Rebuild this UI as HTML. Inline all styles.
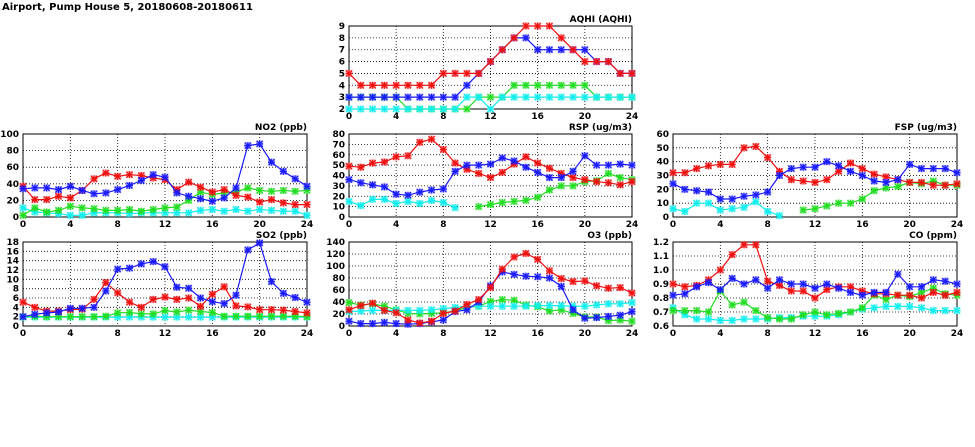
<!DOCTYPE html>
<html><head><meta charset="utf-8">
<style>
body{margin:0;background:#fff;width:975px;height:447px;overflow:hidden}
svg{display:block}
text{font-family:"DejaVu Sans","Liberation Sans",sans-serif;font-weight:bold;font-size:9px;fill:#000}
</style></head>
<body>
<svg id="chart" width="975" height="447" viewBox="0 0 975 447" xmlns="http://www.w3.org/2000/svg">
<text x="2" y="10" style="font-size:10px">Airport, Pump House 5, 20180608-20180611</text>
</svg>
<script>
const hours=[0,1,2,3,4,5,6,7,8,9,10,11,12,13,14,15,16,17,18,19,20,21,22,23,24];
const xTicks=[0,4,8,12,16,20,24];
const N=null;
const aqhiRed=[5,4,4,4,4,4,4,4,5,5,5,5,6,7,8,9,9,9,8,7,6,6,6,5,5];
const aqhiBlue=[3,3,3,3,3,3,3,3,3,3,4,5,6,7,8,8,7,7,7,7,7,6,6,5,5];
const aqhiGreen=[3,3,3,3,3,2,2,2,2,2,2,3,3,3,4,4,4,4,4,4,4,3,3,3,3];
const aqhiCyan=[2,2,2,2,2,2,2,2,2,2,3,3,2,3,3,3,3,3,3,3,3,3,3,3,3];
const no2Blue=[34,35,35,33,37,32,28,29,33,38,44,51,48,29,25,22,19,23,35,86,88,66,55,46,37];
const no2Red=[37,21,21,25,23,32,46,53,49,51,50,47,45,33,42,36,30,33,26,24,18,21,17,15,15];
const no2Green=[2,11,6,8,13,11,10,8,8,9,7,9,11,12,20,30,27,29,30,35,32,31,32,31,32];
const no2Cyan=[11,6,5,4,2,2,5,5,5,4,5,5,5,5,5,8,9,7,9,7,9,8,7,7,2];
const so2Blue=[2,2.5,2.8,3,3.8,3.8,4,7.5,12.2,12.4,13.3,13.8,12.7,8.3,8.1,6,5.2,4.8,6.6,16.3,17.8,9.5,7,6.1,5.1];
const so2Red=[5.1,4,3.2,3.2,3.5,3.6,5.7,9.3,7.1,5.1,4,5.7,6.2,5.7,6,4.2,6.8,8.4,4.3,4.1,3.5,3.5,3.4,3.1,2.8];
const so2Green=[2,2.1,2,2,2,2,2,2.1,2.8,2.9,2.6,2.6,3.3,3,3.4,3.1,2.9,2.1,2.1,2.1,2.1,2.1,2.1,2.1,2];
const so2Cyan=[1.9,1.9,1.9,1.9,1.9,1.9,1.9,1.9,1.9,1.9,1.9,1.9,1.9,1.9,1.9,1.9,1.9,1.9,1.9,1.9,1.9,1.9,1.9,1.9,1.9];
const rspRed=[49,48,52,53,58,59,72,75,65,52,46,42,38,43,51,58,52,47,42,38,36,34,33,31,34];
const rspBlue=[36,33,31,29,22,21,24,26,27,44,50,50,51,57,54,48,43,38,38,44,59,50,50,51,50];
const rspGreen=[N,N,N,N,N,N,N,N,N,N,N,10,12,14,15,16,19,26,30,30,34,35,42,38,36];
const rspCyan=[15,11,17,17,13,15,13,16,14,9,N,N,N,N,N,N,N,N,N,N,N,N,N,N,N];
const o3Red=[27,34,38,26,22,10,5,8,21,25,36,44,64,95,115,121,111,92,79,74,75,67,63,64,55];
const o3Blue=[8,4,4,6,4,3,4,7,10,24,27,40,67,90,86,83,82,80,66,27,13,14,16,18,24];
const o3Green=[39,35,37,33,27,21,20,21,22,25,31,33,41,44,43,35,32,25,27,21,15,15,9,10,8];
const o3Cyan=[24,25,26,26,26,26,26,27,29,31,33,33,33,33,33,33,34,34,34,33,33,35,37,37,39];
const fspRed=[32,32,35,37,38,38,50,51,43,33,27,26,25,27,33,39,35,31,29,27,25,25,23,23,24];
const fspBlue=[24,20,19,18,13,13,15,16,18,30,35,36,36,40,37,33,30,26,25,27,38,35,35,35,32];
const fspGreen=[N,N,N,N,N,N,N,N,N,N,N,5,6,8,10,10,13,19,21,22,25,24,26,23,23];
const fspCyan=[6,4,10,10,5,6,7,11,4,1,N,N,N,N,N,N,N,N,N,N,N,N,N,N,N];
const coRed=[.90,.88,.89,.93,1.0,1.11,1.18,1.18,.92,.89,.85,.85,.80,.86,.88,.88,.85,.83,.83,.82,.82,.80,.84,.82,.84];
const coBlue=[.82,.83,.88,.91,.86,.94,.90,.93,.87,.93,.90,.90,.87,.90,.87,.84,.82,.84,.84,.97,.88,.88,.93,.92,.90];
const coGreen=[.71,.71,.71,.70,.85,.75,.77,.71,.66,.65,.65,.68,.70,.68,.69,.70,.73,.82,.79,.82,.81,.84,.87,.83,.82];
const coCyan=[.73,.68,.65,.65,.64,.64,.65,.65,.65,.66,.66,.67,.67,.67,.68,.70,.72,.73,.74,.74,.74,.73,.71,.71,.71];

const COL={red:"#f01010",blue:"#1a1aff",green:"#22dd22",cyan:"#11eeee"};
const panels=[
 {id:"aqhi",title:"AQHI (AQHI)",x0:349,x1:632,yt:26,yb:109,min:2,max:9,step:1,dec:0,s:[["green",aqhiGreen],["cyan",aqhiCyan],["blue",aqhiBlue],["red",aqhiRed]]},
 {id:"no2",title:"NO2 (ppb)",x0:23,x1:307,yt:134,yb:217,min:0,max:100,step:20,dec:0,s:[["cyan",no2Cyan],["green",no2Green],["red",no2Red],["blue",no2Blue]]},
 {id:"so2",title:"SO2 (ppb)",x0:23,x1:307,yt:242,yb:326,min:0,max:18,step:2,dec:0,s:[["cyan",so2Cyan],["green",so2Green],["red",so2Red],["blue",so2Blue]]},
 {id:"rsp",title:"RSP (ug/m3)",x0:349,x1:632,yt:134,yb:217,min:0,max:80,step:10,dec:0,s:[["cyan",rspCyan],["green",rspGreen],["red",rspRed],["blue",rspBlue]]},
 {id:"o3",title:"O3 (ppb)",x0:349,x1:632,yt:242,yb:326,min:0,max:140,step:20,dec:0,s:[["green",o3Green],["cyan",o3Cyan],["blue",o3Blue],["red",o3Red]]},
 {id:"fsp",title:"FSP (ug/m3)",x0:673,x1:957,yt:134,yb:217,min:0,max:60,step:10,dec:0,s:[["cyan",fspCyan],["green",fspGreen],["red",fspRed],["blue",fspBlue]]},
 {id:"co",title:"CO (ppm)",x0:673,x1:957,yt:242,yb:326,min:0.6,max:1.2,step:0.1,dec:1,s:[["cyan",coCyan],["green",coGreen],["red",coRed],["blue",coBlue]]}
];
const svg=document.getElementById('chart');
const NS="http://www.w3.org/2000/svg";
function mk(tag,attrs,parent){const e=document.createElementNS(NS,tag);for(const k in attrs)e.setAttribute(k,attrs[k]);(parent||svg).appendChild(e);return e;}
panels.forEach(p=>{
 const g=mk('g',{});
 
 
 const xs=h=>p.x0+(h-24*0)/24*(p.x1-p.x0);
 const ys=v=>p.yb-(v-p.min)/(p.max-p.min)*(p.yb-p.yt);
 const nT=Math.round((p.max-p.min)/p.step);
 for(let i=0;i<=nT;i++){
  const v=p.min+i*p.step,y=ys(v);
  if(i>0&&i<nT){const l=mk('line',{x1:p.x0,x2:p.x1,y1:y,y2:y,stroke:"#000","stroke-width":0.8,"stroke-dasharray":"1,2"},g);}
  const t=mk('text',{x:p.x0-4,y:y+3,"text-anchor":"end"},g);t.textContent=v.toFixed(p.dec);
  
 }
 xTicks.forEach(h=>{
  const x=xs(h);
  if(h>0&&h<24){const l=mk('line',{x1:x,x2:x,y1:p.yt,y2:p.yb,stroke:"#000","stroke-width":0.8,"stroke-dasharray":"1,2"},g);}
  const t=mk('text',{x:x,y:p.yb+10,"text-anchor":"middle"},g);t.textContent=h;
  
 });
 const fr=mk('rect',{x:p.x0,y:p.yt,width:p.x1-p.x0,height:p.yb-p.yt,fill:"none",stroke:"#000","stroke-width":1},g);
 
 const tt=mk('text',{x:p.x1,y:p.yt-4,"text-anchor":"end"},g);tt.textContent=p.title;
 
 p.s.forEach(([c,arr])=>{
  const col=COL[c];
  let d="",pen=false;
  arr.forEach((v,i)=>{if(v===null){pen=false;return;}d+=(pen?"L":"M")+xs(hours[i]).toFixed(1)+","+ys(v).toFixed(1);pen=true;});
  const pl=mk('path',{d:d,fill:"none",stroke:col,"stroke-width":1.2},g);
  
  arr.forEach((v,i)=>{
   if(v===null)return;
   const x=xs(hours[i]),y=ys(v);
   const m=mk('g',{},g);
   
   
   mk('rect',{x:x-3.5,y:y-3.5,width:7,height:7,fill:col,opacity:0.35},m);
   mk('path',{d:`M${x-3},${y-3}L${x+3},${y+3}M${x-3},${y+3}L${x+3},${y-3}M${x-3.5},${y}L${x+3.5},${y}M${x},${y-3.5}L${x},${y+3.5}`,stroke:col,"stroke-width":1.2},m);
  });
 });
});
</script>
</body></html>
